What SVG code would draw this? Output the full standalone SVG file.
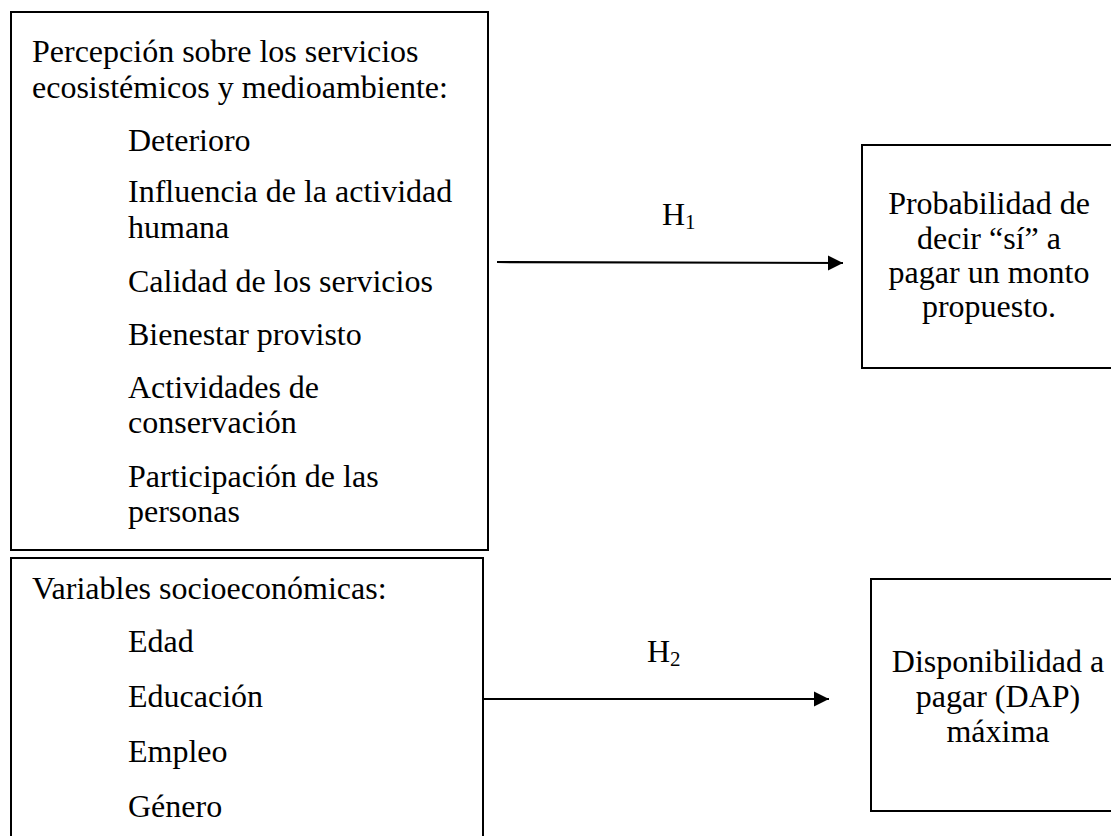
<svg xmlns="http://www.w3.org/2000/svg" width="1111" height="836" viewBox="0 0 1111 836">
<style>
  .box { fill: #ffffff; stroke: #000000; stroke-width: 2; }
  .t { font-family: "Liberation Serif", "Times New Roman", serif; font-size: 32px; fill: #000000; }
  .c { text-anchor: middle; }
  .sub { font-size: 21px; }
  .conn { stroke: #000000; stroke-width: 2.2; fill: none; marker-end: url(#arrow); }
</style>
<defs>
  <marker id="arrow" viewBox="0 0 10 10" refX="10" refY="5" markerWidth="7" markerHeight="7" markerUnits="strokeWidth" orient="auto">
    <path d="M0,0 L10,5 L0,10 Z" fill="#000000"/>
  </marker>
</defs>
<rect width="1111" height="836" fill="#ffffff"/>

<g id="node-percepcion">
  <rect class="box" x="11" y="12" width="477" height="538"/>
  <text class="t" x="32" y="62">Percepción sobre los servicios</text>
  <text class="t" x="32" y="98">ecosistémicos y medioambiente:</text>
  <text class="t" x="128" y="151">Deterioro</text>
  <text class="t" x="128" y="202">Influencia de la actividad</text>
  <text class="t" x="128" y="238">humana</text>
  <text class="t" x="128" y="292">Calidad de los servicios</text>
  <text class="t" x="128" y="345">Bienestar provisto</text>
  <text class="t" x="128" y="398">Actividades de</text>
  <text class="t" x="128" y="433">conservación</text>
  <text class="t" x="128" y="487">Participación de las</text>
  <text class="t" x="128" y="522">personas</text>
</g>

<g id="node-socioeconomicas">
  <rect class="box" x="11" y="558" width="472" height="300"/>
  <text class="t" x="32" y="599">Variables socioeconómicas:</text>
  <text class="t" x="128" y="652">Edad</text>
  <text class="t" x="128" y="707">Educación</text>
  <text class="t" x="128" y="762">Empleo</text>
  <text class="t" x="128" y="817">Género</text>
</g>

<g id="node-probabilidad">
  <rect class="box" x="862" y="145" width="270" height="223"/>
  <text class="t c" x="989" y="214">Probabilidad de</text>
  <text class="t c" x="989" y="249">decir “sí” a</text>
  <text class="t c" x="989" y="283">pagar un monto</text>
  <text class="t c" x="989" y="317">propuesto.</text>
</g>

<g id="node-dap">
  <rect class="box" x="871" y="579" width="270" height="232"/>
  <text class="t c" x="998" y="672">Disponibilidad a</text>
  <text class="t c" x="998" y="707">pagar (DAP)</text>
  <text class="t c" x="998" y="742">máxima</text>
</g>

<g id="connectors">
  <line class="conn" x1="497" y1="262" x2="843" y2="263"/>
  <line class="conn" x1="483" y1="699" x2="829" y2="699"/>
  <text class="t" x="662" y="225">H<tspan class="sub" dy="4">1</tspan></text>
  <text class="t" x="647" y="662">H<tspan class="sub" dy="4">2</tspan></text>
</g>
</svg>
